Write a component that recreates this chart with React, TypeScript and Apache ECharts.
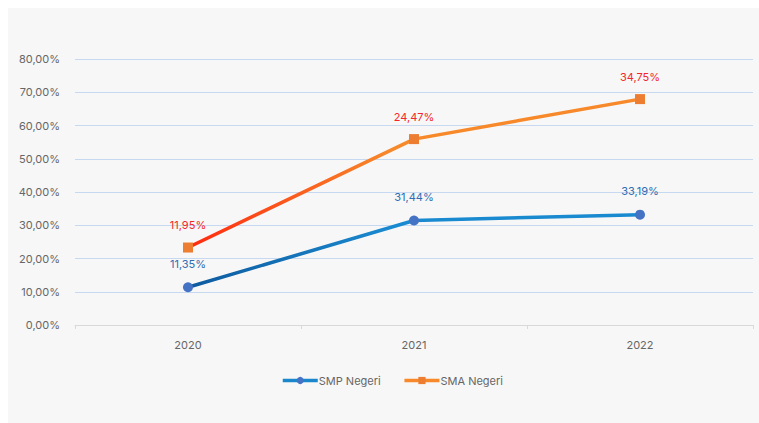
import React, { useEffect, useRef } from "react";
import * as echarts from "echarts";

const categories = ["2020", "2021", "2022"];
const smpValues = [11.35, 31.44, 33.19];
const smaValues = [11.95, 24.47, 34.75];
const yTicks = { min: 0, max: 80, interval: 10 };

const fmt = (v: number) => v.toFixed(2).replace(".", ",") + "%";
const FONT = "Inter, 'Noto Sans', sans-serif";

export default function App() {
  const ref = useRef<HTMLDivElement>(null);
  useEffect(() => {
    if (!ref.current) return;
    const chart = echarts.init(ref.current, undefined, { renderer: "svg" });
    chart.setOption({
      animation: false,
      backgroundColor: "#f7f7f7",
      textStyle: { fontFamily: FONT },
      grid: { left: 67, right: 6, top: 51, bottom: 98 },
      legend: {
        bottom: 32,
        left: 268,
        itemWidth: 35,
        itemHeight: 9,
        itemGap: 22,
        textStyle: { color: "#666", fontSize: 11, fontFamily: FONT, padding: [0, 0, 0, -4] },
        data: [
          { name: "SMP Negeri", itemStyle: { color: "#4472c4" }, lineStyle: { color: "#1a86cc", width: 3.5 } },
          { name: "SMA Negeri", itemStyle: { color: "#ed7d31" }, lineStyle: { color: "#f7892a", width: 3.5 } },
        ],
      },
      xAxis: {
        type: "category",
        data: categories,
        boundaryGap: true,
        axisLine: { lineStyle: { color: "#d9d9d9", width: 1 } },
        axisTick: { show: true, length: 4, lineStyle: { color: "#d9d9d9" } },
        axisLabel: { color: "#666", fontSize: 11, margin: 14, fontFamily: FONT },
      },
      yAxis: {
        type: "value",
        min: yTicks.min,
        max: yTicks.max,
        interval: yTicks.interval,
        axisLine: { show: false },
        axisTick: { show: false },
        splitLine: { lineStyle: { color: "#c6d9f0", width: 1 } },
        axisLabel: { color: "#666", fontSize: 11, margin: 15, formatter: (v: number) => fmt(v), fontFamily: FONT },
      },
      series: [
        {
          name: "SMP Negeri",
          type: "line",
          stack: "total",
          data: smpValues,
          symbol: "circle",
          symbolSize: 10,
          itemStyle: { color: "#4472c4" },
          lineStyle: {
            width: 3.5,
            color: new echarts.graphic.LinearGradient(0, 0, 1, 0, [
              { offset: 0, color: "#0e5a9e" },
              { offset: 0.45, color: "#1a8ad0" },
              { offset: 1, color: "#1a8ad0" },
            ]),
          },
          label: {
            show: true,
            position: "top",
            distance: 13,
            color: "#2e6db4",
            fontSize: 11,
            fontFamily: FONT,
            formatter: (p: any) => fmt(p.value),
          },
        },
        {
          name: "SMA Negeri",
          type: "line",
          stack: "total",
          data: smaValues,
          symbol: "rect",
          symbolSize: 10,
          itemStyle: { color: "#ed7d31" },
          lineStyle: {
            width: 3.5,
            color: new echarts.graphic.LinearGradient(0, 0, 1, 0, [
              { offset: 0, color: "#ff2a10" },
              { offset: 0.45, color: "#f7892a" },
              { offset: 1, color: "#f7892a" },
            ]),
          },
          label: {
            show: true,
            position: "top",
            distance: 12,
            color: "#f5262a",
            fontSize: 11,
            fontFamily: FONT,
            formatter: (p: any) => fmt(p.value),
          },
        },
      ],
    });
    return () => chart.dispose();
  }, []);
  return (
    <div
      ref={ref}
      style={{ position: "fixed", left: 8, top: 8, width: 751, height: 415 }}
    />
  );
}
